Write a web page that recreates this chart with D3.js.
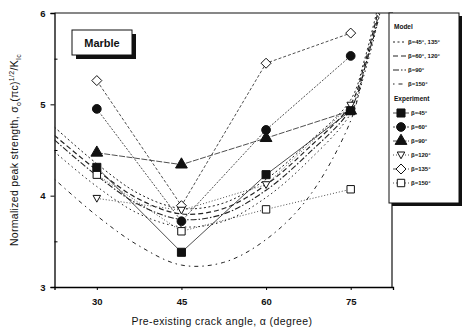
<!DOCTYPE html>
<html>
<head>
<meta charset="utf-8">
<script src="https://cdn.jsdelivr.net/npm/d3@7"></script>
<style>
  body { margin: 0; background: #fff; }
  text { font-family: "Liberation Sans", Arial, sans-serif; fill: #111; }
</style>
</head>
<body>
<div id="chart-area"></div>
<script>
const MARGIN = { LEFT: 54.5, RIGHT: 70, TOP: 13, BOTTOM: 47 }
const W = 463, H = 334
const WIDTH = W - MARGIN.LEFT - MARGIN.RIGHT
const HEIGHT = H - MARGIN.TOP - MARGIN.BOTTOM

// experiment data
const angles = [30, 45, 60, 75]
const exp45 = [4.31, 3.38, 4.23, 4.93]
const exp60 = [4.95, 3.72, 4.72, 5.53]
const exp90 = [4.47, 4.34, 4.63, 4.93]
const exp120 = [3.97, 3.84, 4.12, 4.99]
const exp135 = [5.26, 3.89, 5.45, 5.78]
const exp150 = [4.23, 3.61, 3.85, 4.07]

// model curves
const modelAngles = [22.5, 30, 37.5, 45, 52.5, 60, 67.5, 75, 77.5, 80, 81]
const model45 = [4.75, 4.35, 4.02, 3.86, 3.92, 4.18, 4.58, 5.05, 5.5, 6.1, 6.3]
const model60 = [4.66, 4.28, 3.96, 3.80, 3.86, 4.12, 4.52, 5.0, 5.45, 6.05, 6.3]
const model90 = [4.61, 4.22, 3.90, 3.74, 3.80, 4.06, 4.46, 4.95, 5.4, 6.0, 6.3]
const model135 = [4.48, 4.10, 3.80, 3.66, 3.72, 3.98, 4.38, 4.9, 5.35, 5.95, 6.25]
const model150 = [4.18, 3.78, 3.45, 3.24, 3.27, 3.52, 3.98, 4.82, 5.4, 5.95, 6.25]

const yTicks = [3, 4, 5, 6]
const xTicks = [30, 45, 60, 75]

const svg = d3.select('#chart-area').append('svg')
  .attr('width', W)
  .attr('height', H)

const g = svg.append('g')
  .attr('transform', `translate(${MARGIN.LEFT}, ${MARGIN.TOP})`)

const x = d3.scaleLinear().domain([22.5, 82.5]).range([0, 338.5])
const y = d3.scaleLinear().domain([3, 6]).range([HEIGHT, 0])

svg.append('defs').append('clipPath').attr('id', 'clip')
  .append('rect').attr('width', 338.5).attr('height', HEIGHT)

// axes
g.append('g')
  .attr('transform', `translate(0, ${HEIGHT})`)
  .call(d3.axisBottom(x).tickValues(xTicks).tickSize(3).tickPadding(8))
  .call(a => a.select('.domain').attr('stroke-width', 1.3))
  .selectAll('text').attr('font-size', 9.5).attr('font-weight', 'bold')

g.append('g')
  .call(d3.axisLeft(y).tickValues(yTicks).tickSize(4).tickPadding(5).tickFormat(d3.format('d')))
  .call(a => a.select('.domain').attr('stroke-width', 1.3))
  .selectAll('text').attr('font-size', 9.5).attr('font-weight', 'bold')

g.append('g')
  .call(d3.axisRight(y).tickValues([3.5, 4.5, 5.5]).tickSize(3).tickFormat(''))
  .select('.domain').remove()

// top and right border
g.append('line').attr('x1', 0).attr('x2', 338.5).attr('y1', 0).attr('y2', 0)
  .attr('stroke', '#111').attr('stroke-width', 1.2)
g.append('line').attr('x1', 337.5).attr('x2', 337.5).attr('y1', 0).attr('y2', HEIGHT)
  .attr('stroke', '#111').attr('stroke-width', 1.2)

// model curves
const models = [
  { v: model45, dash: '2,2.5', w: 1 },
  { v: model135, dash: '1.5,3', w: 1 },
  { v: model60, dash: '5,3', w: 1.2 },
  { v: model90, dash: '6,2,1.5,2', w: 1.1 },
  { v: model150, dash: '1.5,4,4,4', w: 1 }
]
const curve = d3.line()
  .x((d, i) => x(modelAngles[i]))
  .y(d => y(d))
  .curve(d3.curveCatmullRom)

const cg = g.append('g').attr('clip-path', 'url(#clip)')
models.forEach(m => {
  cg.append('path')
    .attr('d', curve(m.v))
    .attr('fill', 'none')
    .attr('stroke', '#222')
    .attr('stroke-width', m.w)
    .attr('stroke-dasharray', m.dash)
})

// custom symbols
const downTri = {
  draw(ctx, size) {
    const s = Math.sqrt(size / 0.8)
    ctx.moveTo(-s / 2, -s * 0.4)
    ctx.lineTo(s / 2, -s * 0.4)
    ctx.lineTo(0, s * 0.5)
    ctx.closePath()
  }
}
const diamond = {
  draw(ctx, size) {
    const r = Math.sqrt(size / 2)
    ctx.moveTo(0, -r)
    ctx.lineTo(r, 0)
    ctx.lineTo(0, r)
    ctx.lineTo(-r, 0)
    ctx.closePath()
  }
}

// experiments
const series = [
  { v: exp135, sym: diamond, fill: '#fff', dash: '3,2', size: 50 },
  { v: exp60, sym: d3.symbolCircle, fill: '#111', dash: '2,1.5', size: 60 },
  { v: exp90, sym: d3.symbolTriangle, fill: '#111', dash: '6,1.5', size: 60 },
  { v: exp120, sym: downTri, fill: '#fff', dash: '1,2', size: 45 },
  { v: exp150, sym: d3.symbolSquare, fill: '#fff', dash: '1,2', size: 55 },
  { v: exp45, sym: d3.symbolSquare, fill: '#111', dash: null, size: 65 }
]
const line = d3.line().x((d, i) => x(angles[i])).y(d => y(d))

series.forEach(s => {
  g.append('path')
    .attr('d', line(s.v))
    .attr('fill', 'none')
    .attr('stroke', '#222')
    .attr('stroke-width', 0.8)
    .attr('stroke-dasharray', s.dash)
})
series.forEach(s => {
  g.selectAll(null).data(s.v).enter().append('path')
    .attr('transform', (d, i) => `translate(${x(angles[i])}, ${y(d)})`)
    .attr('d', d3.symbol(s.sym, s.size))
    .attr('fill', s.fill)
    .attr('stroke', '#111')
    .attr('stroke-width', 1)
})

// Marble box
svg.append('rect').attr('x', 76).attr('y', 34).attr('width', 60).attr('height', 25).attr('fill', '#111')
svg.append('rect').attr('x', 72).attr('y', 30).attr('width', 60).attr('height', 25)
  .attr('fill', '#fff').attr('stroke', '#111').attr('stroke-width', 1)
svg.append('text').attr('x', 102).attr('y', 46.5).attr('text-anchor', 'middle')
  .attr('font-size', 11).attr('font-weight', 'bold').text('Marble')

// legend
const lx = 389, ly = 13
svg.append('rect').attr('x', lx + 3).attr('y', ly + 3).attr('width', 70).attr('height', 190).attr('fill', '#111')
svg.append('rect').attr('x', lx).attr('y', ly).attr('width', 70).attr('height', 190)
  .attr('fill', '#fff').attr('stroke', '#111').attr('stroke-width', 1)

const lg = svg.append('g').attr('font-size', 6).attr('font-weight', 'bold')
lg.append('text').attr('x', lx + 5).attr('y', 29).attr('font-size', 6.5).text('Model')
const modelLabels = ['β=45°, 135°', 'β=60°, 120°', 'β=90°', 'β=150°']
const modelLeg = [models[0], models[2], models[3], models[4]]
modelLabels.forEach((t, i) => {
  const yy = 42 + i * 14
  lg.append('line').attr('x1', lx + 4).attr('x2', lx + 17).attr('y1', yy).attr('y2', yy)
    .attr('stroke', '#222').attr('stroke-width', 1).attr('stroke-dasharray', modelLeg[i].dash)
  lg.append('text').attr('x', lx + 19).attr('y', yy + 2).text(t)
})
lg.append('text').attr('x', lx + 5).attr('y', 101).attr('font-size', 6.5).text('Experiment')
const expLabels = ['β=45°', 'β=60°', 'β=90°', 'β=120°', 'β=135°', 'β=150°']
const expLeg = [series[5], series[1], series[2], series[3], series[0], series[4]]
expLabels.forEach((t, i) => {
  const yy = 113 + i * 14
  const s = expLeg[i]
  lg.append('line').attr('x1', lx + 4).attr('x2', lx + 20).attr('y1', yy).attr('y2', yy)
    .attr('stroke', '#222').attr('stroke-width', 0.8).attr('stroke-dasharray', s.dash)
  lg.append('path')
    .attr('transform', `translate(${lx + 12}, ${yy})`)
    .attr('d', d3.symbol(s.sym, s.size))
    .attr('fill', s.fill).attr('stroke', '#111').attr('stroke-width', 1)
  lg.append('text').attr('x', lx + 22).attr('y', yy + 2).text(t)
})

// axis titles
svg.append('text')
  .attr('x', 222).attr('y', 325)
  .attr('text-anchor', 'middle')
  .attr('font-size', 10.5)
  .attr('letter-spacing', 0.4)
  .text('Pre-existing crack angle, α (degree)')

const yl = svg.append('text')
  .attr('transform', 'translate(18, 150) rotate(-90)')
  .attr('text-anchor', 'middle')
  .attr('font-size', 10.5)
  .attr('letter-spacing', 0.3)
yl.append('tspan').text('Normalized peak strength, σ')
yl.append('tspan').attr('font-size', 7).attr('dy', 3).text('o')
yl.append('tspan').attr('dy', -3).text('(πc)')
yl.append('tspan').attr('font-size', 7).attr('dy', -4).text('1/2')
yl.append('tspan').attr('dy', 4).text('/K')
yl.append('tspan').attr('font-size', 7).attr('dy', 3).text('Ic')
</script>
</body>
</html>
